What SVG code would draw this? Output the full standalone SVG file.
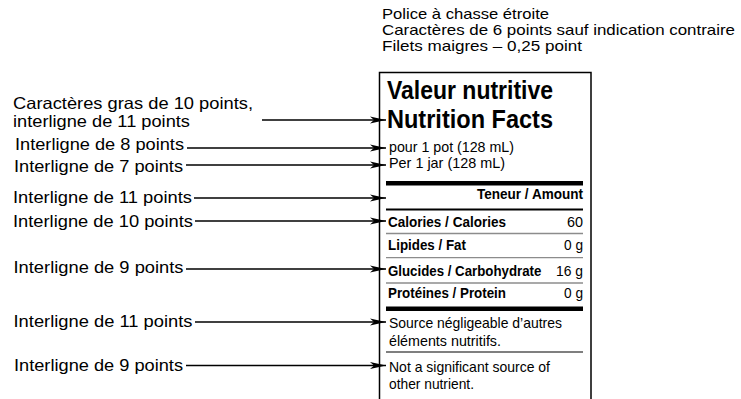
<svg xmlns="http://www.w3.org/2000/svg" width="741" height="399" viewBox="0 0 741 399">
<defs>
<style>
text{font-family:"Liberation Sans",Arial,Helvetica,sans-serif;fill:#000}
.lbl{font-size:16.5px}
.note{font-size:15px}
.head{font-size:25.5px;font-weight:bold}
.sm{font-size:14.5px}
.b{font-size:15px;font-weight:bold}
.r{font-size:15px}
.conn{stroke:#000;stroke-width:1.4;fill:none;marker-end:url(#ah)}
.frame{fill:none;stroke:#000;stroke-width:1.5}
.thick{fill:#000}
.gray{stroke:#8c8c8c;stroke-width:1.3}
.thin{stroke:#000;stroke-width:1.2}
</style>
<marker id="ah" markerUnits="userSpaceOnUse" viewBox="0 0 16 8" refX="16" refY="4" markerWidth="16" markerHeight="8" orient="auto">
<path d="M0,0.6 L16,4 L0,7.4 L4,4 Z" fill="#000"/>
</marker>
</defs>

<g id="notes">
<text class="note" x="382" y="19" textLength="167" lengthAdjust="spacingAndGlyphs">Police à chasse étroite</text>
<text class="note" x="382" y="35" textLength="353" lengthAdjust="spacingAndGlyphs">Caractères de 6 points sauf indication contraire</text>
<text class="note" x="382" y="51" textLength="200" lengthAdjust="spacingAndGlyphs">Filets maigres – 0,25 point</text>
</g>

<g id="label-title">
<text class="lbl" x="13" y="109" textLength="240" lengthAdjust="spacingAndGlyphs">Caractères gras de 10 points,</text>
<text class="lbl" x="13" y="127" textLength="177" lengthAdjust="spacingAndGlyphs">interligne de 11 points</text>
</g>
<g id="label-8"><text class="lbl" x="15" y="150" textLength="169" lengthAdjust="spacingAndGlyphs">Interligne de 8 points</text></g>
<g id="label-7"><text class="lbl" x="14" y="171.5" textLength="169" lengthAdjust="spacingAndGlyphs">Interligne de 7 points</text></g>
<g id="label-11a"><text class="lbl" x="13" y="203" textLength="179" lengthAdjust="spacingAndGlyphs">Interligne de 11 points</text></g>
<g id="label-10"><text class="lbl" x="13" y="226.5" textLength="180" lengthAdjust="spacingAndGlyphs">Interligne de 10 points</text></g>
<g id="label-9a"><text class="lbl" x="13.5" y="273" textLength="170" lengthAdjust="spacingAndGlyphs">Interligne de 9 points</text></g>
<g id="label-11b"><text class="lbl" x="13.5" y="327" textLength="179" lengthAdjust="spacingAndGlyphs">Interligne de 11 points</text></g>
<g id="label-9b"><text class="lbl" x="14" y="370.5" textLength="169" lengthAdjust="spacingAndGlyphs">Interligne de 9 points</text></g>

<g id="panel">
<path class="frame" d="M379.5,410 V72.5 H591 V410"/>
<text class="head" x="387" y="99" textLength="166" lengthAdjust="spacingAndGlyphs">Valeur nutritive</text>
<text class="head" x="387" y="128" textLength="166" lengthAdjust="spacingAndGlyphs">Nutrition Facts</text>
<text class="sm" x="389" y="151.5" textLength="125" lengthAdjust="spacingAndGlyphs">pour 1 pot (128 mL)</text>
<text class="sm" x="389" y="167.5" textLength="116" lengthAdjust="spacingAndGlyphs">Per 1 jar (128 mL)</text>
<rect class="thick" x="386" y="181" width="197" height="4.5"/>
<text class="b" x="477" y="198.5" textLength="106" lengthAdjust="spacingAndGlyphs">Teneur / Amount</text>
<rect class="thick" x="386" y="208.5" width="197" height="2"/>
<text class="b" x="388" y="227" textLength="118" lengthAdjust="spacingAndGlyphs">Calories / Calories</text>
<text class="r" x="583" y="227" text-anchor="end" textLength="16" lengthAdjust="spacingAndGlyphs">60</text>
<line class="gray" x1="386" y1="233.5" x2="583" y2="233.5"/>
<text class="b" x="388" y="250" textLength="78" lengthAdjust="spacingAndGlyphs">Lipides / Fat</text>
<text class="r" x="583" y="250" text-anchor="end" textLength="19" lengthAdjust="spacingAndGlyphs">0 g</text>
<line class="gray" x1="386" y1="257.7" x2="583" y2="257.7"/>
<text class="b" transform="translate(388,275.5) scale(0.885,1)">Glucides / Carbohydrate</text>
<text class="r" x="583" y="275.5" text-anchor="end" textLength="27" lengthAdjust="spacingAndGlyphs">16 g</text>
<line class="gray" x1="386" y1="283" x2="583" y2="283"/>
<text class="b" x="388" y="297.5" textLength="118" lengthAdjust="spacingAndGlyphs">Protéines / Protein</text>
<text class="r" x="583" y="297.5" text-anchor="end" textLength="19" lengthAdjust="spacingAndGlyphs">0 g</text>
<rect class="thick" x="386" y="306.5" width="197" height="4.5"/>
<text class="sm" x="389" y="328" textLength="173" lengthAdjust="spacingAndGlyphs">Source négligeable d’autres</text>
<text class="sm" x="389" y="346" textLength="112" lengthAdjust="spacingAndGlyphs">éléments nutritifs.</text>
<line class="thin" x1="386" y1="352" x2="583" y2="352"/>
<text class="sm" x="389" y="372" textLength="161" lengthAdjust="spacingAndGlyphs">Not a significant source of</text>
<text class="sm" x="389" y="389" textLength="85" lengthAdjust="spacingAndGlyphs">other nutrient.</text>
</g>

<g id="connectors">
<line class="conn" x1="262" y1="120" x2="386" y2="120"/>
<line class="conn" x1="187" y1="148" x2="386" y2="148"/>
<line class="conn" x1="186" y1="165" x2="386" y2="165"/>
<line class="conn" x1="194" y1="198" x2="386" y2="198"/>
<line class="conn" x1="195" y1="221" x2="386" y2="221"/>
<line class="conn" x1="186" y1="269" x2="386" y2="269"/>
<line class="conn" x1="195" y1="322" x2="386" y2="322"/>
<line class="conn" x1="186" y1="365.5" x2="386" y2="365.5"/>
</g>
</svg>
